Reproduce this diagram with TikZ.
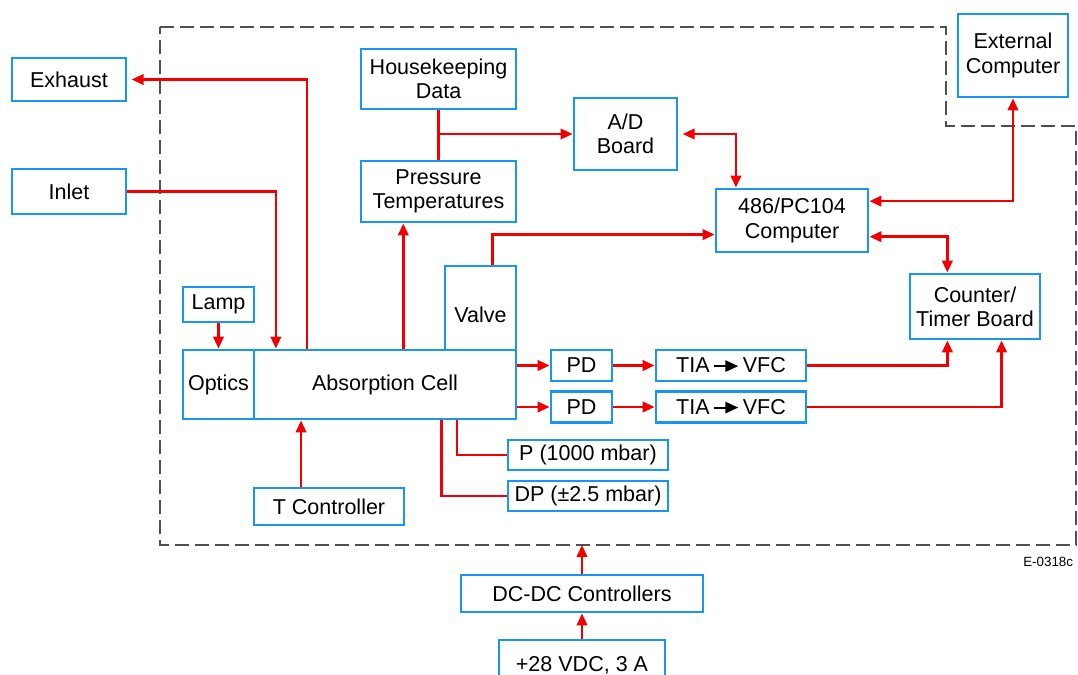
\documentclass[tikz,border=0pt]{standalone}
\usepackage{fontspec}
\setmainfont{Liberation Sans}
\usetikzlibrary{arrows.meta,calc}

\definecolor{boxblue}{RGB}{25,150,240}
\definecolor{linkred}{RGB}{240,0,0}
\definecolor{framegray}{RGB}{80,80,80}

\newcommand{\tiavfc}{TIA\,\tikz[baseline=-0.6ex]\draw[line width=1.4pt,-{Triangle[length=0.32cm,width=0.28cm]}](0cm,0cm)--(0.6cm,0cm);\,VFC}

\tikzset{
    blk/.style={draw=boxblue, line width=2pt, inner sep=0pt, align=center,
        font=\fontsize{15.3}{17.3}\selectfont},
    wire/.style={draw=linkred, line width=1.8pt},
    link/.style={wire, -{Triangle[length=0.3cm,width=0.26cm]}},
    dlink/.style={wire, {Triangle[length=0.3cm,width=0.26cm]}-{Triangle[length=0.3cm,width=0.26cm]}},
    frame/.style={draw=framegray, line width=0.9pt, dash pattern=on 0.35cm off 0.15cm},
}

\begin{document}
\begin{tikzpicture}[x=0.025cm, y=-0.025cm]
    \useasboundingbox (0,0) rectangle (1078,675);

    % instrument boundary
    \draw[frame](160,27) -| (946,126) -| (1076,545) -| cycle;

    \node[blk, minimum width=2.85cm, minimum height=1.075cm](exhaust) at (69,79.5){Exhaust};
    \node[blk, minimum width=2.85cm, minimum height=1.125cm](inlet) at (69,191.5){Inlet};
    \node[blk, minimum width=3.875cm, minimum height=1.5cm](hk) at (438.5,79){Housekeeping\\Data};
    \node[blk, minimum width=3.875cm, minimum height=1.525cm](press) at (438.5,191.5){Pressure\\Temperatures};
    \node[blk, minimum width=2.575cm, minimum height=1.8cm](ad) at (625.5,134){A/D\\Board};
    \node[blk, minimum width=2.75cm, minimum height=2.075cm](ext) at (1013,55.5){External\\Computer};
    \node[blk, minimum width=3.8cm, minimum height=1.575cm](pc) at (792,220.5){486/PC104\\Computer};
    \node[blk, minimum width=3.25cm, minimum height=1.625cm](counter) at (975,306.5){Counter/\\Timer Board};
    \node[blk, minimum width=1.775cm, minimum height=2.1cm, text height=0.73cm, text depth=0cm](valve) at (480.5,308){Valve};
    \node[blk, minimum width=1.775cm, minimum height=0.875cm](lamp) at (218.5,304.5){Lamp};
    \node[blk, minimum width=1.775cm, minimum height=1.725cm](optics) at (218.5,384.5){Optics};
    \node[blk, minimum width=6.55cm, minimum height=1.725cm](cell) at (385,384.5){Absorption Cell};
    \node[blk, minimum width=1.525cm, minimum height=0.775cm](pd1) at (581.5,365.5){PD};
    \node[blk, minimum width=1.525cm, minimum height=0.775cm](pd2) at (581.5,407){PD};
    \node[blk, minimum width=3.75cm, minimum height=0.775cm](tia1) at (731,365.5){\tiavfc};
    \node[blk, minimum width=3.75cm, minimum height=0.775cm](tia2) at (731,407){\tiavfc};
    \node[blk, minimum width=4cm, minimum height=0.75cm](pbox) at (588,455){P (1000 mbar)};
    \node[blk, minimum width=4cm, minimum height=0.75cm](dpbox) at (588,496){DP (±2.5 mbar)};
    \node[blk, minimum width=3.75cm, minimum height=0.925cm](tctrl) at (329,506.5){T Controller};
    \node[blk, minimum width=6.05cm, minimum height=0.925cm](dcdc) at (582,593.5){DC-DC Controllers};
    \node[blk, minimum width=4.15cm, minimum height=1.25cm](supply) at (582,665){+28 VDC, 3 A};
    \node[font=\fontsize{9.5}{11}\selectfont, anchor=east](tag) at (1078,562){E-0318c};

    % taps on the cell and computer boxes
    \coordinate (cExh) at ($(cell.north west)!0.206!(cell.north east)$);
    \coordinate (cIn) at ($(cell.north west)!0.088!(cell.north east)$);
    \coordinate (cPr) at ($(cell.north west)!0.569!(cell.north east)$);
    \coordinate (cT) at ($(cell.south west)!0.183!(cell.south east)$);
    \coordinate (cP) at ($(cell.south west)!0.771!(cell.south east)$);
    \coordinate (cDP) at ($(cell.south west)!0.714!(cell.south east)$);
    \coordinate (vTop) at ($(valve.north west)!0.66!(valve.north east)$);
    \coordinate (pcIn) at ($(pc.north west)!0.714!(pc.south west)$);
    \coordinate (pcAd) at ($(pc.north west)!0.138!(pc.north east)$);
    \coordinate (pcExt) at ($(pc.north east)!0.206!(pc.south east)$);
    \coordinate (pcCnt) at ($(pc.north east)!0.746!(pc.south east)$);
    \coordinate (cntTop) at ($(counter.north west)!0.292!(counter.north east)$);
    \coordinate (cntA) at ($(counter.south west)!0.292!(counter.south east)$);
    \coordinate (cntB) at ($(counter.south west)!0.7!(counter.south east)$);
    \coordinate (fbot) at (0,545);

    \draw[link, shorten >=3pt](cExh) |- (exhaust.east);
    \draw[link](inlet.east) -| (cIn);
    \draw[link](lamp.south) -- (optics.north);
    \draw[link](cPr) -- (cPr |- press.south);
    \draw[wire](hk.south) -- (press.north);
    \draw[link](ad.west -| hk.south) -- (ad.west);
    \draw[dlink, shorten <=3pt](ad.east) -| (pcAd);
    \draw[link](vTop) |- (pcIn);
    \draw[dlink](pcExt) -| (ext.south);
    \draw[dlink](pcCnt) -| (cntTop);
    \draw[link](cell.east |- pd1.west) -- (pd1.west);
    \draw[link](cell.east |- pd2.west) -- (pd2.west);
    \draw[link](pd1.east) -- (tia1.west);
    \draw[link](pd2.east) -- (tia2.west);
    \draw[link](tia1.east) -| (cntA);
    \draw[link](tia2.east) -| (cntB);
    \draw[wire](cP) |- (pbox.west);
    \draw[wire](cDP) |- (dpbox.west);
    \draw[link](tctrl.north -| cT) -- (cT);
    \draw[link](dcdc.north) -- (dcdc.north |- fbot);
    \draw[link](supply.north) -- (dcdc.south);
\end{tikzpicture}
\end{document}
